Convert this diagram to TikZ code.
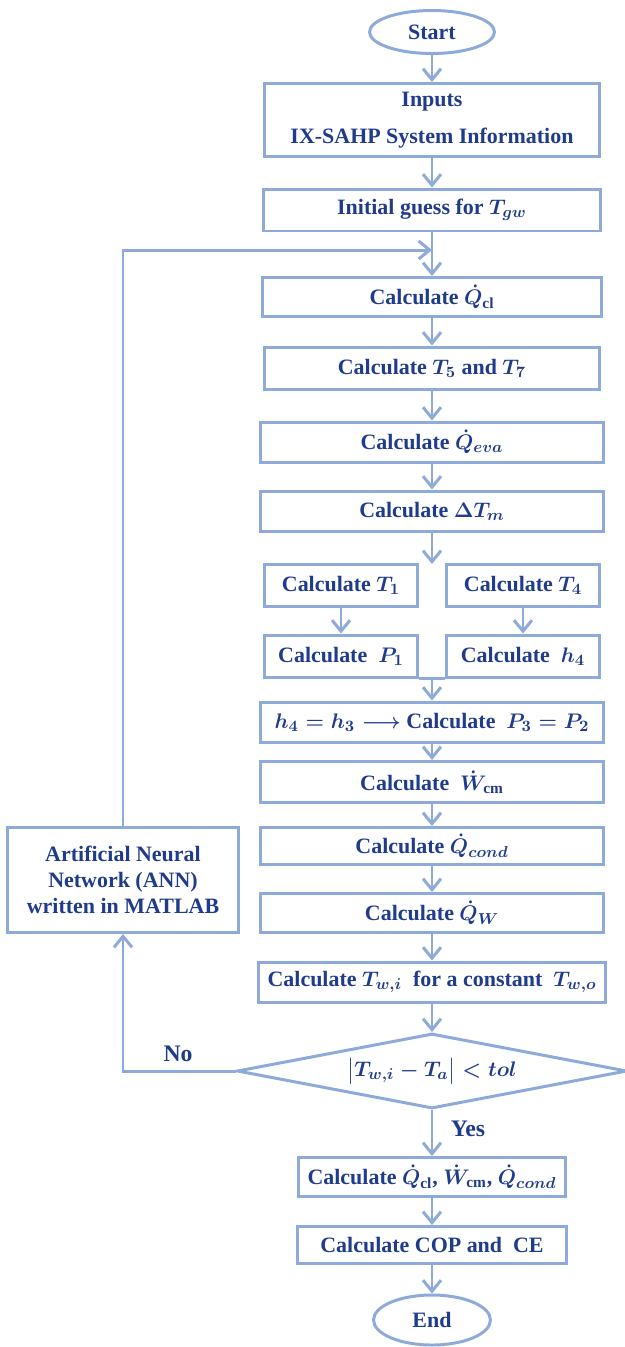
\documentclass[tikz,border=0pt]{standalone}
\usepackage{fontspec}
\setmainfont{Liberation Serif}
\usepackage{amsmath}
\usetikzlibrary{positioning,shapes.geometric,arrows.meta,calc}

\definecolor{lineblue}{HTML}{8EAADB}
\definecolor{textblue}{HTML}{1F3B8C}

\tikzset{
    box/.style={draw=lineblue, line width=1.7pt, text=textblue, align=center,
        inner sep=0pt, font=\bfseries\boldmath\fontsize{12.5}{15}\selectfont},
    term/.style={box, ellipse},
    decide/.style={box, diamond, aspect=5},
    flow/.style={draw=lineblue, line width=1.7pt,
        -{Straight Barb[length=0.22cm, width=0.36cm, line width=1.7pt]}},
    lbl/.style={text=textblue, font=\bfseries\fontsize{13.5}{16}\selectfont}
}

\begin{document}
\begin{tikzpicture}[x=0.02cm, y=-0.02cm]
    \useasboundingbox (0,0) rectangle (625,1347);

    % Main column
    \node[term, minimum width=2.5cm, minimum height=0.86cm] (start) at (432,32) {Start};
    \node[box, minimum width=6.7cm, minimum height=1.46cm] (inputs) at (432,120)
        {Inputs\\[6pt]IX-SAHP System Information};
    \node[box, minimum width=6.74cm, minimum height=0.84cm] (guess) at (432,210)
        {Initial guess for $T_{gw}$};
    \node[box, minimum width=6.8cm, minimum height=0.78cm] (qcl) at (432,297)
        {Calculate $\dot{Q}_{\mathrm{cl}}$};
    \node[box, minimum width=6.72cm, minimum height=0.84cm] (tfive) at (432,368)
        {Calculate $T_5$ and $T_7$};
    \node[box, minimum width=6.86cm, minimum height=0.8cm] (qeva) at (432,442)
        {Calculate $\dot{Q}_{eva}$};
    \node[box, minimum width=6.86cm, minimum height=0.8cm] (dtm) at (432,511)
        {Calculate $\Delta T_m$};

    % Two branches
    \node[box, minimum width=3.08cm, minimum height=0.84cm] (tone) at (341,585)
        {Calculate $T_1$};
    \node[box, minimum width=3.08cm, minimum height=0.84cm] (tfour) at (523,585)
        {Calculate $T_4$};
    \node[box, minimum width=3.08cm, minimum height=0.84cm] (pone) at (341,656)
        {Calculate \ $P_1$};
    \node[box, minimum width=3.08cm, minimum height=0.84cm] (hfour) at (523,656)
        {Calculate \ $h_4$};
    \coordinate (split) at (432,564);
    \coordinate (merge) at ($(pone.south east)!0.5!(hfour.south west)$);

    \node[box, minimum width=6.86cm, minimum height=0.8cm] (hthree) at (432,722)
        {$h_4 = h_3 \longrightarrow$ Calculate \ $P_3 = P_2$};
    \node[box, minimum width=6.86cm, minimum height=0.82cm] (wcm) at (432,782)
        {Calculate \ $\dot{W}_{\mathrm{cm}}$};
    \node[box, minimum width=6.86cm, minimum height=0.74cm] (qcond) at (432,846)
        {Calculate $\dot{Q}_{cond}$};
    \node[box, minimum width=6.86cm, minimum height=0.78cm] (qw) at (432,913)
        {Calculate $\dot{Q}_W$};
    \node[box, minimum width=6.96cm, minimum height=0.8cm] (twi) at (432,982)
        {Calculate $T_{w,i}$ \ for a constant \ $T_{w,o}$};
    \node[decide, minimum width=7.8cm, minimum height=1.5cm] (dia) at (432,1071)
        {$\left|T_{w,i} - T_a\right| < tol$};
    \node[box, minimum width=5.36cm, minimum height=0.78cm] (fin) at (432,1177)
        {Calculate $\dot{Q}_{\mathrm{cl}}$, $\dot{W}_{\mathrm{cm}}$, $\dot{Q}_{cond}$};
    \node[box, minimum width=5.38cm, minimum height=0.74cm] (cop) at (432,1245)
        {Calculate COP and \ CE};
    \node[term, minimum width=2.34cm, minimum height=1.0cm] (end) at (432,1320) {End};

    % Feedback loop
    \node[box, minimum width=4.62cm, minimum height=2.1cm] (ann) at (123,880)
        {Artificial Neural\\Network (ANN)\\written in MATLAB};
    \coordinate (join) at (432,250);

    % Arrows
    \draw[flow] (start) -- (inputs);
    \draw[flow] (inputs) -- (guess);
    \draw[flow] (guess) -- (qcl);
    \draw[flow] (qcl) -- (tfive);
    \draw[flow] (tfive) -- (qeva);
    \draw[flow] (qeva) -- (dtm);
    \draw[flow] (dtm) -- (split);
    \draw[flow] (tone) -- (pone);
    \draw[flow] (tfour) -- (hfour);
    \draw[draw=lineblue, line width=1.7pt] (pone.south east) -- (hfour.south west);
    \draw[flow] (merge) -- (hthree);
    \draw[flow] (hthree) -- (wcm);
    \draw[flow] (wcm) -- (qcond);
    \draw[flow] (qcond) -- (qw);
    \draw[flow] (qw) -- (twi);
    \draw[flow] (twi) -- (dia);
    \draw[flow] (dia) -- (fin);
    \draw[flow] (fin) -- (cop);
    \draw[flow] (cop) -- (end);
    \draw[flow] (dia.west) -| (ann.south);
    \draw[flow] (ann.north) |- (join);

    \node[lbl] (nolbl) at (178,1054) {No};
    \node[lbl] (yeslbl) at (468,1129) {Yes};
\end{tikzpicture}
\end{document}
